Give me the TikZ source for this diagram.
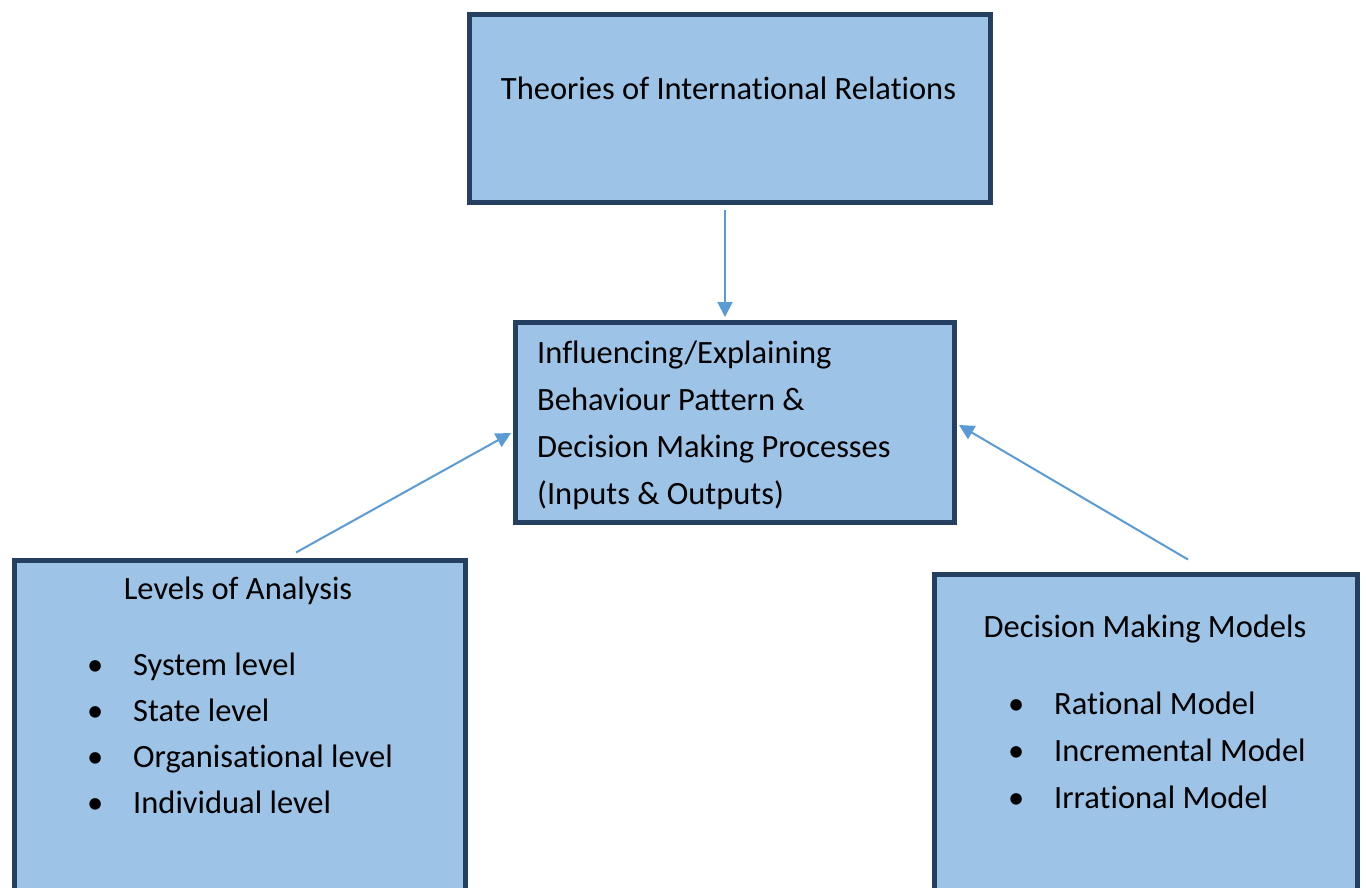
\documentclass[tikz,border=0pt]{standalone}
\usepackage{fontspec}
\setmainfont{Carlito}[Ligatures=NoCommon]
\usepackage{tikz}
\usetikzlibrary{arrows.meta}

\definecolor{boxfill}{HTML}{9DC3E6}
\definecolor{boxedge}{HTML}{243F60}
\definecolor{arrowblue}{HTML}{5B9BD5}

\newcommand{\itm}[1]{\makebox[46pt][l]{\textbullet}#1}

\begin{document}
\begin{tikzpicture}[
		x=1pt, y=-1pt,
		box/.style = {shape=rectangle, draw=boxedge, line width=5pt, fill=boxfill, inner sep=0pt},
		txt/.style = {font=\fontsize{32.5}{47}\selectfont, inner sep=0pt, align=left},
		link/.style = {draw=arrowblue, line width=2pt, -{Triangle[length=15pt,width=15pt]}}]
		\useasboundingbox (0,0) rectangle (1366,887);
		\clip (0,0) rectangle (1366,887);
		% boxes
		\node[box, minimum width=521pt, minimum height=188pt] (top) at (730,108.5) {};
		\node[box, minimum width=439pt, minimum height=200pt] (mid) at (735,422.5) {};
		\node[box, minimum width=451pt, minimum height=360pt] (left) at (240,740) {};
		\node[box, minimum width=423pt, minimum height=346pt] (right) at (1146,747) {};
		% texts
		\node[txt] (toptext) at (728.5,88) {Theories of International Relations};
		\node[txt, anchor=west] (midtext) at (537,425.5) {Influencing/Explaining\\Behaviour Pattern \&\\Decision Making Processes\\(Inputs \& Outputs)};
		\node[txt] (lefthead) at (238,591) {Levels of Analysis};
		\node[txt, anchor=west, font=\fontsize{32.5}{46}\selectfont] (leftlist) at (87,733) {\itm{System level}\\\itm{State level}\\\itm{Organisational level}\\\itm{Individual level}};
		\node[txt] (righthead) at (1145,629) {Decision Making Models};
		\node[txt, anchor=west] (rightlist) at (1008,750) {\itm{Rational Model}\\\itm{Incremental Model}\\\itm{Irrational Model}};
		% connectors
		\draw[link] ([xshift=-5pt,yshift=-5pt]top.south) -- ([xshift=-10pt,yshift=3pt]mid.north);
		\draw[link] ([xshift=56pt,yshift=5pt]left.north) -- ([xshift=-2pt,yshift=-10.5pt]mid.west);
		\draw[link] ([xshift=42pt,yshift=12pt]right.north) -- ([xshift=2pt,yshift=-2.5pt]mid.east);
	\end{tikzpicture}
\end{document}
